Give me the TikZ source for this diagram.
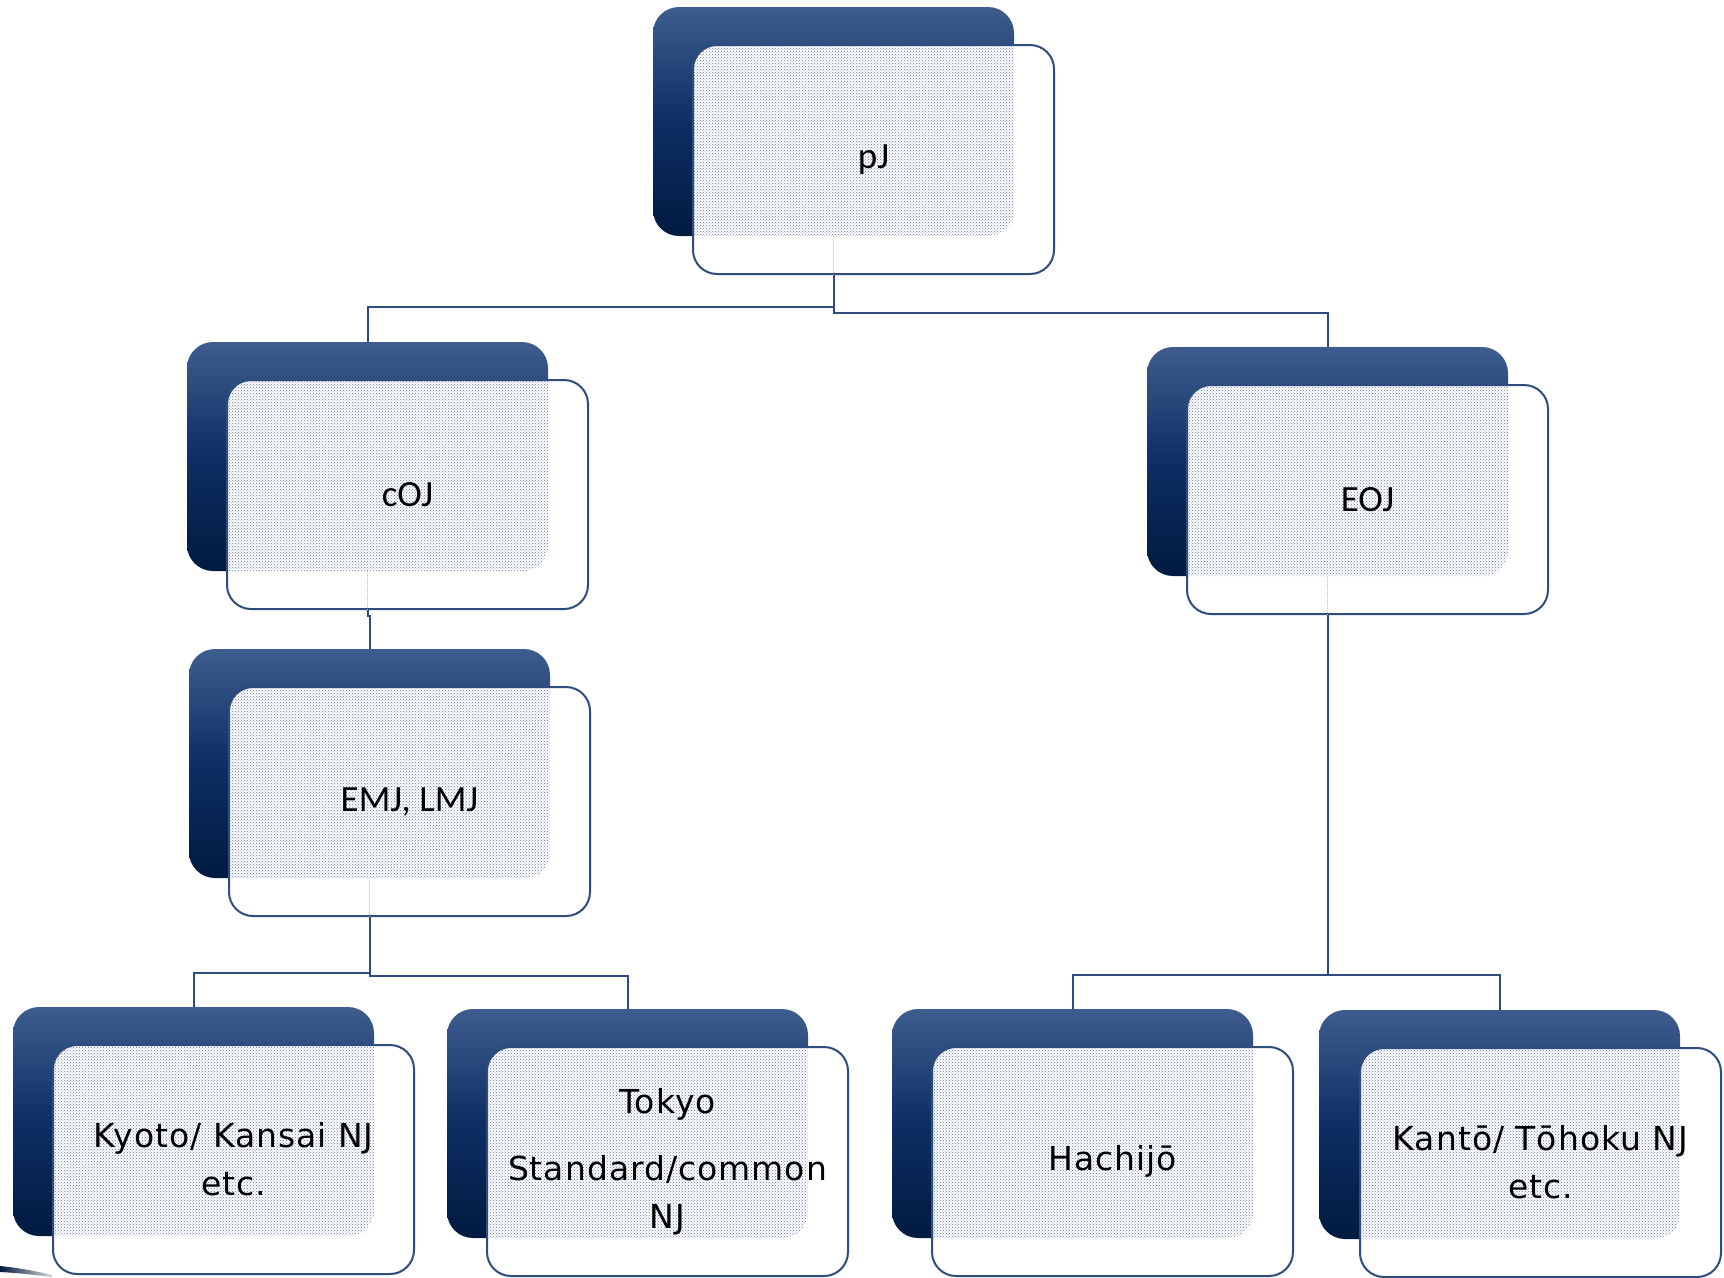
\documentclass[tikz,border=0pt]{standalone}
\usepackage{fontspec}
\setmainfont{Carlito}
\newfontfamily\lowfont[LetterSpace=3]{DejaVu Sans}
\usetikzlibrary{patterns}
\definecolor{lineblue}{RGB}{46,76,126}
\definecolor{shadetop}{RGB}{62,92,142}
\definecolor{shademid}{RGB}{14,46,100}
\definecolor{shadebot}{RGB}{0,26,64}
\definecolor{dotcol}{RGB}{100,118,158}
\tikzset{
  backbox/.style={rectangle, rounded corners=26pt, minimum width=361pt, minimum height=229pt,
    inner sep=0pt, top color=shadetop, bottom color=shadebot, middle color=shademid, draw=none},
  frontbox/.style={rectangle, rounded corners=24pt, minimum width=361pt, minimum height=229pt,
    inner sep=0pt, fill=white, draw=lineblue, line width=2pt, align=center, text=black,
    path picture={\fill[pattern=crosshatch dots, pattern color=dotcol, rounded corners=26pt]
      (#1.north west) rectangle (#1.south east);}},
  link/.style={draw=lineblue, line width=2pt},
  faint/.style={draw=lineblue!35, line width=1pt, densely dotted},
  toplabel/.style={font=\fontsize{37}{44}\selectfont},
  lowlabel/.style={font=\lowfont\fontsize{33}{48}\selectfont},
}
\begin{document}
\begin{tikzpicture}[x=1pt, y=-1pt]
\useasboundingbox (0,0) rectangle (1724,1277);
% back boxes
\node[backbox] (pJb) at (833.5,121.5) {};
\node[backbox] (cOJb) at (367.5,456.5) {};
\node[backbox] (EOJb) at (1327.5,461.5) {};
\node[backbox] (EMJb) at (369.5,763.5) {};
\node[backbox] (Kyotob) at (193.5,1121.5) {};
\node[backbox] (Tokyob) at (627.5,1123.5) {};
\node[backbox] (Hachijob) at (1072.5,1123.5) {};
\node[backbox] (Kantob) at (1499.5,1124.5) {};
% connectors
\draw[link] (pJb.south) -- ++(0,71) -| (cOJb.north);
\draw[link] (pJb.south) -- ++(0,77) -| (EOJb.north);
\draw[link] (cOJb.south) -- ++(0,45) -| (EMJb.north);
\draw[link] (EMJb.south) -- ++(0,95) -| (Kyotob.north);
\draw[link] (EMJb.south) -- ++(0,98) -| (Tokyob.north);
\draw[link] (EOJb.south) -- ++(0,399) -| (Hachijob.north);
\draw[link] (EOJb.south) -- ++(0,399) -| (Kantob.north);
% front boxes
\node[frontbox=pJb, toplabel] (pJ) at (873.5,159.5) {pJ};
\node[frontbox=cOJb, toplabel] (cOJ) at (407.5,494.5) {cOJ};
\node[frontbox=EOJb, toplabel] (EOJ) at (1367.5,499.5) {EOJ};
\node[frontbox=EMJb, toplabel] (EMJ) at (409.5,801.5) {EMJ, LMJ};
\node[frontbox=Kyotob, lowlabel] (Kyoto) at (233.5,1159.5) {Kyoto/ Kansai NJ\\etc.};
\node[frontbox=Tokyob, lowlabel] (Tokyo) at (667.5,1161.5) {Tokyo\\[19pt]Standard/common\\NJ};
\node[frontbox=Hachijob, lowlabel] (Hachijo) at (1112.5,1161.5) {Hachijō};
\node[frontbox=Kantob, lowlabel] (Kanto) at (1540.5,1162.5) {Kantō/ Tōhoku NJ\\etc.};
% faint connector traces through the front boxes
\draw[faint] (pJb.south) -- (pJb.south |- pJ.south);
\draw[faint] (cOJb.south) -- (cOJb.south |- cOJ.south);
\draw[faint] (EOJb.south) -- (EOJb.south |- EOJ.south);
\draw[faint] (EMJb.south) -- (EMJb.south |- EMJ.south);
% swoosh at bottom-left corner
\shade[left color=shadebot, right color=gray!30] (0,1266) .. controls (20,1268) and (35,1271) .. (52,1275) -- (52,1277) .. controls (35,1275) and (20,1273) .. (0,1272) -- cycle;
\end{tikzpicture}
\end{document}
